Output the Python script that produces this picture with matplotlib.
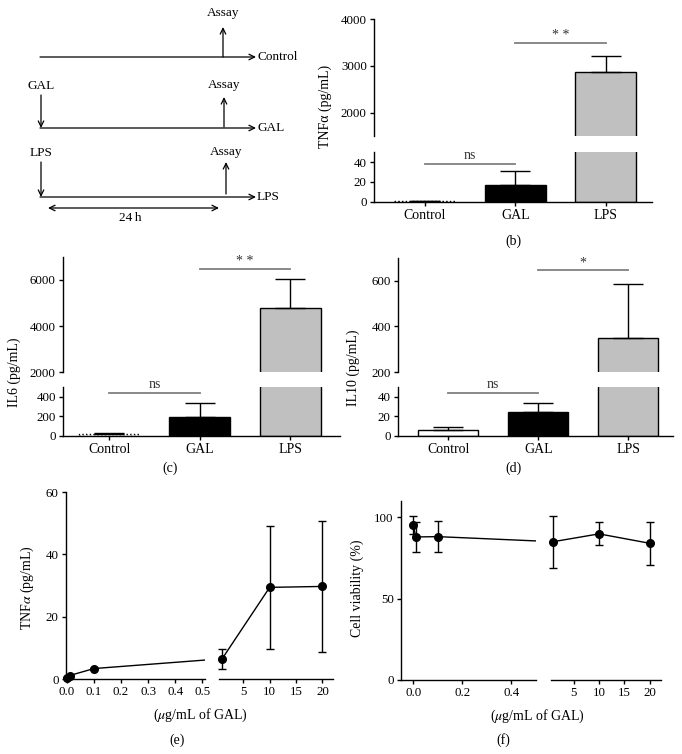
import matplotlib
matplotlib.use('Agg')
import matplotlib.pyplot as plt
import numpy as np
from matplotlib.ticker import FormatStrFormatter

plt.rcParams['font.family'] = ['Liberation Serif', 'DejaVu Serif']
plt.rcParams['mathtext.fontset'] = 'stix'
plt.rcParams['font.size'] = 9
plt.rcParams['axes.linewidth'] = 1.0
plt.rcParams['xtick.major.width'] = 1.0
plt.rcParams['ytick.major.width'] = 1.0
plt.rcParams['xtick.major.size'] = 3.2
plt.rcParams['ytick.major.size'] = 3.2

# ---------------- data ----------------
groups = ['Control', 'GAL', 'LPS']
bar_colors = ['white', 'black', '#c0c0c0']

tnf_mean = [1, 17, 2870]
tnf_err = [0.5, 14, 330]
il6_mean = [20, 195, 4800]
il6_err = [8, 140, 1250]
il10_mean = [6, 24, 348]
il10_err = [3, 10, 239]

dose = [0, 0.01, 0.1, 1, 10, 20]
tnf_dose = [0.4, 1.1, 3.35, 6.5, 29.4, 29.7]
tnf_dose_err = [0.3, 0.3, 0.3, 3.2, 19.8, 21.0]
viab = [95.3, 87.9, 88.1, 85.0, 89.8, 84.0]
viab_err = [5.7, 9.5, 9.5, 16.0, 7.0, 13.3]

W, H = 682, 754
fig = plt.figure(figsize=(W / 100, H / 100), dpi=100)

TICK_FS = 9.3
CAT_FS = 10
LAB_FS = 10
PANEL_FS = 10


def rect(x0, y0, x1, y1):
    return [x0 / W, 1 - y1 / H, (x1 - x0) / W, (y1 - y0) / H]


def ftext(x, y, s, **kw):
    fig.text(x / W, 1 - y / H, s, **kw)


# ---------------- panel (a): schematic ----------------
axa = fig.add_axes(rect(0, 0, 340, 230))
axa.set_xlim(0, 340)
axa.set_ylim(230, 0)
axa.axis('off')
arw = dict(arrowstyle='->,head_length=0.45,head_width=0.22', lw=0.9, color='black', shrinkA=0, shrinkB=0)
darw = dict(arrowstyle='<->,head_length=0.45,head_width=0.22', lw=0.9, color='black', shrinkA=0, shrinkB=0)
fs_a = 9.5
# Control row
axa.annotate('', xy=(256, 57), xytext=(40, 57), arrowprops=arw)
axa.text(257, 57, 'Control', ha='left', va='center', fontsize=fs_a)
axa.annotate('', xy=(223, 27), xytext=(223, 57), arrowprops=arw)
axa.text(223, 13, 'Assay', ha='center', va='center', fontsize=fs_a)
# GAL row
axa.text(41, 86, 'GAL', ha='center', va='center', fontsize=fs_a)
axa.annotate('', xy=(41, 128), xytext=(41, 95), arrowprops=arw)
axa.annotate('', xy=(256, 128), xytext=(40, 128), arrowprops=arw)
axa.text(257, 128, 'GAL', ha='left', va='center', fontsize=fs_a)
axa.annotate('', xy=(224, 97), xytext=(224, 127), arrowprops=arw)
axa.text(224, 85, 'Assay', ha='center', va='center', fontsize=fs_a)
# LPS row
axa.text(41, 153, 'LPS', ha='center', va='center', fontsize=fs_a)
axa.annotate('', xy=(41, 197), xytext=(41, 162), arrowprops=arw)
axa.annotate('', xy=(256, 197), xytext=(40, 197), arrowprops=arw)
axa.text(257, 197, 'LPS', ha='left', va='center', fontsize=fs_a)
axa.annotate('', xy=(226, 162), xytext=(226, 194), arrowprops=arw)
axa.text(226, 152, 'Assay', ha='center', va='center', fontsize=fs_a)
axa.annotate('', xy=(219, 208), xytext=(48, 208), arrowprops=darw)
axa.text(130, 218, '24\u2009h', ha='center', va='center', fontsize=fs_a)


# ---------------- broken bar charts ----------------
def broken_bar(px, xlim, up_lim, low_lim, up_ticks, low_ticks, means, errs,
               sig_up, sig_low, control_ls):
    x0, x1, yu0, yu1, yl0, yl1 = px
    axU = fig.add_axes(rect(x0, yu0, x1, yu1))
    axL = fig.add_axes(rect(x0, yl0, x1, yl1))
    pos = np.arange(len(groups))
    for ax in (axU, axL):
        bars = ax.bar(pos, means, width=0.67, color=bar_colors, edgecolor='black', linewidth=1.0)
        bars[0].set_linestyle(control_ls)
        ax.errorbar(pos, means, yerr=[np.zeros(len(errs)), errs], fmt='none', ecolor='black',
                    elinewidth=1.0, capsize=11, capthick=1.0)
        ax.set_xlim(*xlim)
        ax.spines['top'].set_visible(False)
        ax.spines['right'].set_visible(False)
        ax.tick_params(labelsize=TICK_FS, direction='out', pad=2)
    axU.set_ylim(*up_lim)
    axL.set_ylim(*low_lim)
    axU.set_yticks(up_ticks)
    axL.set_yticks(low_ticks)
    axU.spines['bottom'].set_visible(False)
    axU.set_xticks([])
    axL.set_xticks(pos)
    axL.set_xticklabels(groups, fontsize=CAT_FS)
    # significance
    (i, j, yv, s) = sig_up
    axU.plot([i, j], [yv, yv], color='#808080', lw=1.3, clip_on=False)
    axU.annotate(s, xy=((i + j) / 2, yv), xytext=(0, 0.5), textcoords='offset points',
                 ha='center', va='bottom', fontsize=10, color='#333333')
    (i, j, yv, s) = sig_low
    axL.plot([i, j], [yv, yv], color='#808080', lw=1.3, clip_on=False)
    axL.annotate(s, xy=((i + j) / 2, yv), xytext=(0, 1.5), textcoords='offset points',
                 ha='center', va='bottom', fontsize=10, color='#333333')
    return axU, axL


# (b)
broken_bar((374, 652, 19, 136, 152, 202), (-0.56, 2.51), (1500, 4000), (0, 50),
           [2000, 3000, 4000], [0, 20, 40], tnf_mean, tnf_err,
           (1, 2, 3490, '* *'), (0, 1, 38, 'ns'), ':')
ftext(325, 106, 'TNF\u03b1 (pg/mL)', rotation=90, ha='center', va='center', fontsize=LAB_FS)
ftext(513, 241, '(b)', ha='center', va='center', fontsize=PANEL_FS)

# (c)
broken_bar((63, 340, 257, 372, 387, 436), (-0.51, 2.55), (2000, 7000), (0, 500),
           [2000, 4000, 6000], [0, 200, 400], il6_mean, il6_err,
           (1, 2, 6480, '* *'), (0, 1, 442, 'ns'), ':')
ftext(14, 372, 'IL6 (pg/mL)', rotation=90, ha='center', va='center', fontsize=LAB_FS)
ftext(170, 468, '(c)', ha='center', va='center', fontsize=PANEL_FS)

# (d)
broken_bar((398, 673, 258, 372, 387, 436), (-0.56, 2.5), (200, 700), (0, 50),
           [200, 400, 600], [0, 20, 40], il10_mean, il10_err,
           (1, 2, 648, '*'), (0, 1, 44, 'ns'), '-')
ftext(353, 368, 'IL10 (pg/mL)', rotation=90, ha='center', va='center', fontsize=LAB_FS)
ftext(513, 468, '(d)', ha='center', va='center', fontsize=PANEL_FS)


# ---------------- broken x-axis line charts ----------------
def broken_line(pxL, pxR, xlimL, xlimR, ylim, yticks, xticksL, xticksR, xs, ys, es, capsize):
    axL = fig.add_axes(rect(*pxL))
    axR = fig.add_axes(rect(*pxR))
    for ax in (axL, axR):
        ax.set_ylim(*ylim)
        ax.spines['top'].set_visible(False)
        ax.spines['right'].set_visible(False)
        ax.tick_params(labelsize=TICK_FS, direction='out', pad=2)
    axL.set_xlim(*xlimL)
    axR.set_xlim(*xlimR)
    axL.set_yticks(yticks)
    axR.spines['left'].set_visible(False)
    axR.set_yticks([])
    axL.set_xticks(xticksL)
    axL.xaxis.set_major_formatter(FormatStrFormatter('%.1f'))
    axR.set_xticks(xticksR)
    xs = np.asarray(xs, float)
    ys = np.asarray(ys, float)
    es = np.asarray(es, float)
    mL = xs <= xlimL[1]
    mR = xs >= xlimR[0]
    axL.plot(xs[mL], ys[mL], color='black', lw=1.0, clip_on=False, zorder=2)
    axR.plot(xs[mR], ys[mR], color='black', lw=1.0, clip_on=True, zorder=2)
    # connecting segment across break (straight in display space)
    iL = np.where(mL)[0][-1]
    iR = np.where(mR)[0][0]
    disp = axR.transData.transform((xs[iR], ys[iR]))
    xb, yb = axL.transData.inverted().transform(disp)
    axL.plot([xs[iL], xb], [ys[iL], yb], color='black', lw=1.0, clip_on=True, zorder=2)
    for ax, m in ((axL, mL), (axR, mR)):
        ax.errorbar(xs[m], ys[m], yerr=es[m], fmt='o', color='black', ms=5.5,
                    elinewidth=1.0, capsize=capsize, capthick=1.0, clip_on=False, zorder=3)
    return axL, axR


# (e)
broken_line((66, 492, 205, 679), (219, 492, 333, 679), (-0.003, 0.51), (0.4, 22),
            (0, 60), [0, 20, 40, 60], [0, 0.1, 0.2, 0.3, 0.4, 0.5], [5, 10, 15, 20],
            dose, tnf_dose, tnf_dose_err, 3)
ftext(27, 588, 'TNF$\\alpha$ (pg/mL)', rotation=90, ha='center', va='center', fontsize=LAB_FS)
ftext(200, 715, '($\\mu$g/mL of GAL)', ha='center', va='center', fontsize=LAB_FS)
ftext(177, 740, '(e)', ha='center', va='center', fontsize=PANEL_FS)

# (f)
broken_line((401, 501, 536, 680), (551, 501, 661, 680), (-0.05, 0.5), (0.55, 22.2),
            (0, 110), [0, 50, 100], [0.0, 0.2, 0.4], [5, 10, 15, 20],
            dose, viab, viab_err, 3)
ftext(357, 588, 'Cell viability (%)', rotation=90, ha='center', va='center', fontsize=LAB_FS)
ftext(537, 716, '($\\mu$g/mL of GAL)', ha='center', va='center', fontsize=LAB_FS)
ftext(503, 740, '(f)', ha='center', va='center', fontsize=PANEL_FS)

fig.savefig('out.png', dpi=100)
